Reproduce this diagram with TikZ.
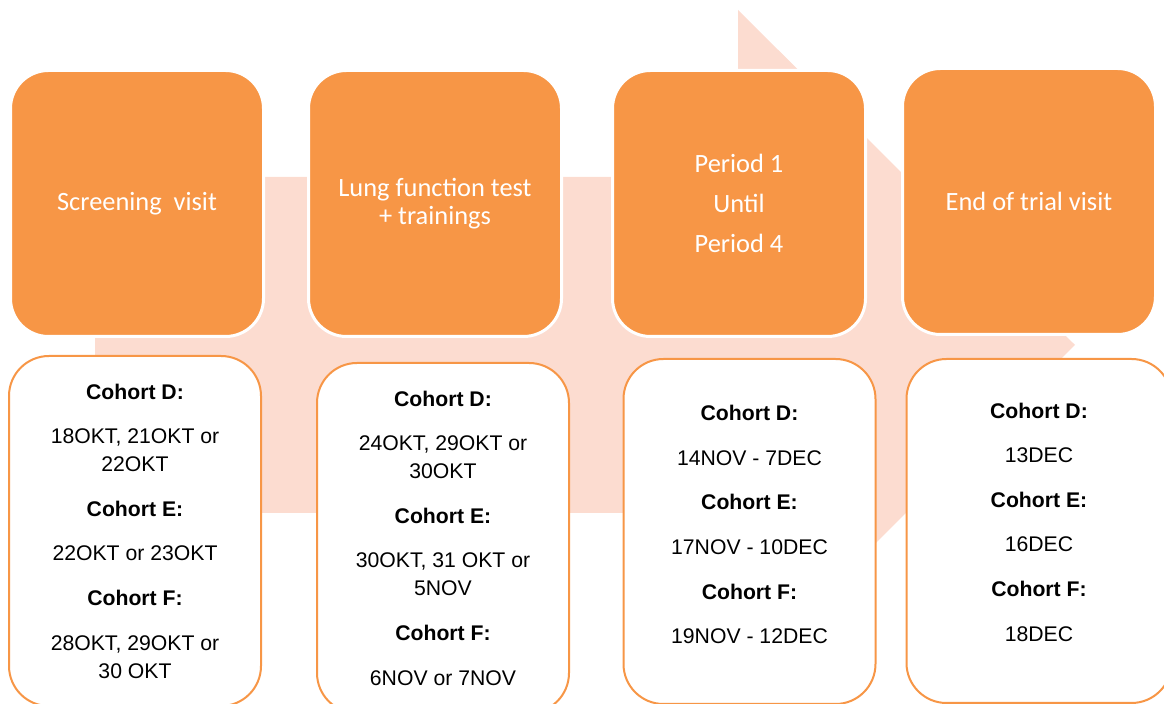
\documentclass[tikz,border=0pt]{standalone}
\usepackage{fontspec}
\setmainfont{Liberation Sans}
\newfontfamily\calibri{Carlito}
\usepackage{xcolor}
\usepackage{tikz}
\usetikzlibrary{positioning}
\definecolor{accent}{HTML}{F79646}
\definecolor{arrowbg}{HTML}{FCDCD0}

\begin{document}
\begin{tikzpicture}[
    x=0.5pt, y=-0.5pt,
    node distance=10pt and 21pt,
    phase/.style={draw=white, line width=1.5pt, fill=accent, rounded corners=19pt, minimum width=126.5pt, minimum height=133pt, align=center, inner sep=0pt, text=white, font=\calibri\fontsize{13.2}{14}\selectfont},
    dates/.style={draw=accent, line width=1pt, fill=white, rounded corners=20pt, minimum width=126pt, minimum height=#1, align=center, inner sep=0pt, font=\fontsize{10.6}{14}\selectfont},
    dates/.default=172.5pt
]
    \useasboundingbox (0,0) rectangle (1164,704);

    % Background arrow
    \fill[arrowbg] (95,177) -- (738,177) -- (738,10) -- (1075,345) -- (738,680) -- (738,513) -- (95,513) -- cycle;

    % Phases
    \node[phase] (screen) at (137,203.5) {Screening\ \ visit};
    \node[phase, right=21pt of screen] (lung) {Lung function test\\+ trainings};
    \node[phase, right=24pt of lung] (period) {Period 1\\[6pt]Until\\[6pt]Period 4};
    \node[phase, right=17pt of period, yshift=1pt] (eot) {End of trial visit};

    % Cohort dates
    \node[dates=175pt, below=8.5pt of screen, xshift=-1pt] (screendates) {\textbf{Cohort D:}\\[8.3pt]18OKT, 21OKT or\\22OKT\\[8.3pt]\textbf{Cohort E:}\\[8.3pt]22OKT or 23OKT\\[8.3pt]\textbf{Cohort F:}\\[8.3pt]28OKT, 29OKT or\\30 OKT};
    \node[dates=175pt, below=12pt of lung, xshift=4pt] (lungdates) {\textbf{Cohort D:}\\[8.3pt]24OKT, 29OKT or\\30OKT\\[8.3pt]\textbf{Cohort E:}\\[8.3pt]30OKT, 31 OKT or\\5NOV\\[8.3pt]\textbf{Cohort F:}\\[8.3pt]6NOV or 7NOV};
    \node[dates, below=10pt of period, xshift=5.25pt] (perioddates) {\textbf{Cohort D:}\\[8.3pt]14NOV - 7DEC\\[8.3pt]\textbf{Cohort E:}\\[8.3pt]17NOV - 10DEC\\[8.3pt]\textbf{Cohort F:}\\[8.3pt]19NOV - 12DEC\\[-7pt]\mbox{}};
    \node[dates=172pt, below=11pt of eot, xshift=5pt, minimum width=132.5pt] (eotdates) {\textbf{Cohort D:}\\[8.3pt]13DEC\\[8.3pt]\textbf{Cohort E:}\\[8.3pt]16DEC\\[8.3pt]\textbf{Cohort F:}\\[8.3pt]18DEC\\[-5pt]\mbox{}};
\end{tikzpicture}
\end{document}
